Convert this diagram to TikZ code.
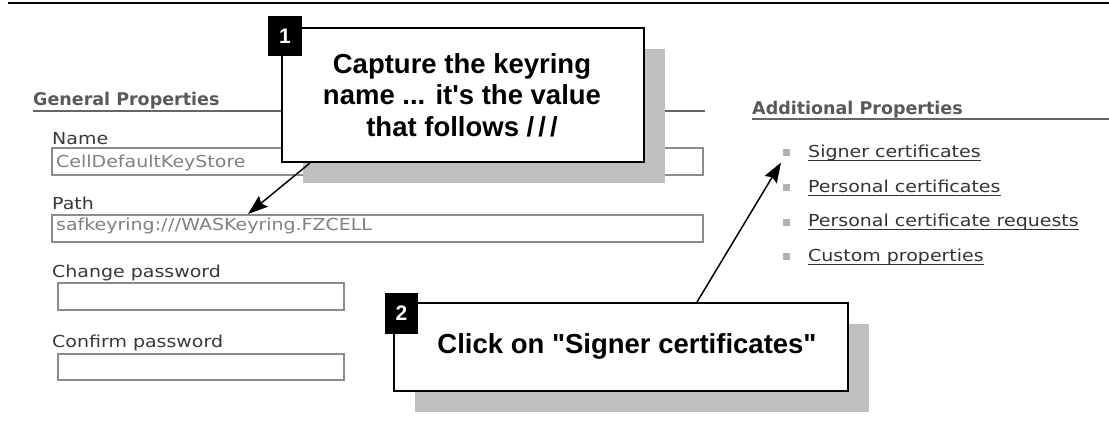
\documentclass[tikz,border=0pt]{standalone}
\usepackage{fontspec}
\setmainfont{Liberation Sans}[Ligatures=NoCommon]
\newfontfamily\uifont[FakeStretch=1.15]{DejaVu Sans}
\newfontfamily\headfont{DejaVu Sans}
\usetikzlibrary{arrows.meta,shadows}

\begin{document}
\begin{tikzpicture}[x=1pt,y=-1pt,
  ui/.style={font=\uifont\fontsize{16.5}{20}\selectfont, inner sep=0pt, anchor=base west},
  fieldlabel/.style={ui, text=black!78},
  fieldvalue/.style={ui, text=black!50},
  link/.style={ui, text=black!80},
  heading/.style={font=\headfont\bfseries\fontsize{17.5}{21}\selectfont, text=black!65, inner sep=0pt, anchor=base west},
  headrule/.style={draw=black!60, line width=2pt},
  field/.style={draw=black!45, line width=1.5pt, fill=white, anchor=north west, inner sep=0pt, minimum height=27pt},
  bullet/.style={fill=black!30, minimum width=7pt, minimum height=7pt, inner sep=0pt},
  callout/.style={draw=black, line width=2pt, fill=white, inner sep=0pt, anchor=north west,
    drop shadow={shadow xshift=21pt, shadow yshift=-21pt, fill=black!25, opacity=1}},
  calltext/.style={font=\bfseries\fontsize{27.5}{31.5}\selectfont, align=center, inner sep=0pt},
  tag/.style={fill=black, text=white, font=\bfseries\fontsize{21}{21}\selectfont, inner sep=0pt},
  pointer/.style={line width=1.5pt, -{Stealth[length=20pt,width=14pt,inset=3pt]}}
]
\useasboundingbox (0,0) rectangle (1109,421);

% top rule
\coordinate (ruleL) at (8,3);
\coordinate (ruleR) at (1109,3);
\draw[line width=2.5pt] (ruleL) -- (ruleR);

% general properties form
\node[heading] (gp) at (33,105) {General Properties};
\coordinate (gpR) at (705,111);
\draw[headrule] (gp.base west |- gpR) -- (gpR);

\node[fieldlabel] (lname) at (52,144) {Name};
\node[field, minimum width=651pt] (namebox) at (51,147) {};
\node[fieldvalue] (vname) at (56,167) {CellDefaultKeyStore};

\node[fieldlabel] (lpath) at (52,209) {Path};
\node[field, minimum width=651pt] (pathbox) at (51,214) {};
\node[fieldvalue] (vpath) at (56,230) {safkeyring:/\kern.5pt/\kern.5pt/WASKeyring.FZCELL};

\node[fieldlabel] (lchange) at (52,277) {Change password};
\node[field, minimum width=286pt] (changebox) at (57,282) {};

\node[fieldlabel] (lconfirm) at (52,347) {Confirm password};
\node[field, minimum width=286pt, minimum height=26pt] (confirmbox) at (57,353) {};

% additional properties
\node[heading] (ap) at (752,114) {Additional Properties};
\coordinate (apR) at (1109,119);
\draw[headrule] (ap.base west |- apR) -- (apR);

\foreach \i/\y/\t in {1/157/Signer certificates,
                      2/192/Personal certificates,
                      3/226.5/Personal certificate requests,
                      4/261/Custom properties}{
  \node[bullet] (b\i) at (786,\y-4.5) {};
  \node[link] (s\i) at (808,\y) {\t};
  \draw[black!80, line width=1pt] ([yshift=-3pt]s\i.base west) -- ([yshift=-3pt]s\i.base east);
}

% callout 1
\node[callout, minimum width=362pt, minimum height=134pt] (c1) at (281,27) {};
\node[calltext] (t1) at (462,95) {Capture the keyring\\name ... it\textquotesingle s the value\\that follows /\kern4pt/\kern4pt/};
\node[tag, minimum width=34pt, minimum height=40pt] (k1) at (285,36) {1};

% callout 2
\node[callout, minimum width=454pt, minimum height=88pt] (c2) at (393,302) {};
\node[calltext, anchor=base] (t2) at (627,353) {Click on \textquotedbl Signer certificates\textquotedbl};
\node[tag, minimum width=33pt, minimum height=41pt] (k2) at (401.5,313.5) {2};

% pointers
\draw[pointer] ([xshift=29pt]c1.south west) -- ([xshift=197pt]pathbox.north west);
\draw[pointer] ([xshift=304pt]c2.north west) -- ([shift={(-5,10)}]b1.center);
\end{tikzpicture}
\end{document}
